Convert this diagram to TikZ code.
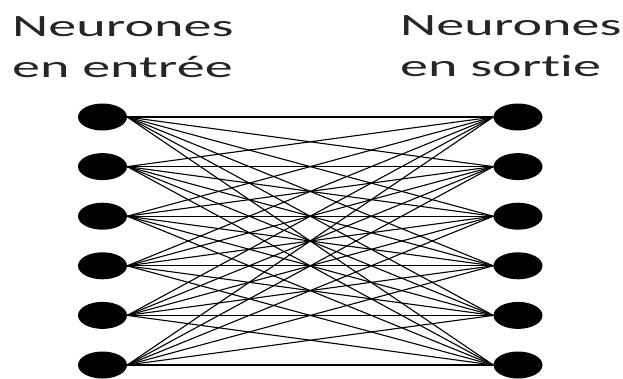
\documentclass[tikz,border=0pt]{standalone}
\usepackage{fontspec}
\setmainfont[Ligatures=NoCommon]{Carlito}
\usetikzlibrary{shapes.geometric}
\tikzset{
  neuron/.style={ellipse, fill=black, draw=none, minimum width=49pt, minimum height=27pt, inner sep=0pt},
  link/.style={draw=black, line width=1.1pt},
  label/.style={anchor=base west, inner sep=0pt, font=\fontsize{31}{31}\selectfont, text=black!85}
}
\newcommand{\wide}[1]{\scalebox{1.81}[1]{#1}}
\begin{document}
\begin{tikzpicture}[x=1pt,y=-1pt]
\useasboundingbox (0,0) rectangle (623,378);
\node[label] (t1) at (12,36) {\wide{Neurones}};
\node[label] (t2) at (12,77) {\wide{en entrée}};
\node[label] (t3) at (400,35) {\wide{Neurones}};
\node[label] (t4) at (400,76) {\wide{en sortie}};
\foreach \i/\y in {1/117,2/166.6,3/216.2,4/265.8,5/315.4,6/365}{
  \node[neuron] (L\i) at (102.5,\y) {};
  \node[neuron] (R\i) at (518,\y) {};
}
\foreach \i in {1,...,6}{
  \foreach \j in {1,...,6}{
    \draw[link] (L\i.east) -- (R\j.west);
  }
}
\end{tikzpicture}
\end{document}
